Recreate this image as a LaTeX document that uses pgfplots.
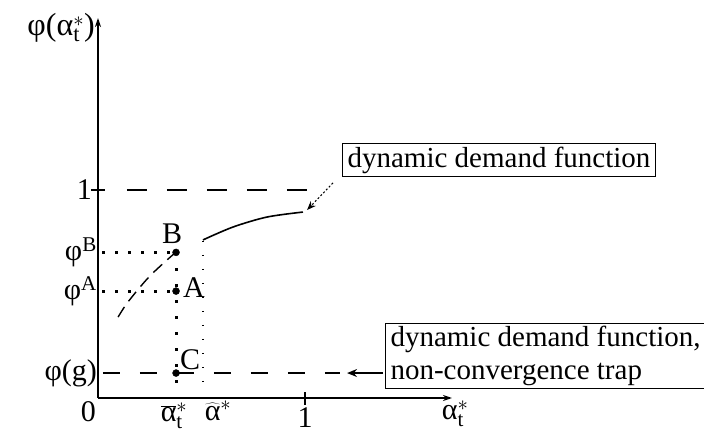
\documentclass[border=0pt]{standalone}
\usepackage{fontspec}
\setmainfont{Liberation Serif}
\usepackage{pgfplots}
\pgfplotsset{compat=1.18}
\usetikzlibrary{arrows.meta}
\newcommand{\fs}{\fontsize{29}{33}\selectfont}
\newcommand{\fl}{\fontsize{30}{34}\selectfont}
\newcommand{\fy}{\fontsize{32}{36}\selectfont}
\begin{document}
\begin{tikzpicture}
\useasboundingbox (0,0) rectangle (704pt,442pt);
\begin{axis}[
  at={(98pt,44pt)}, anchor=south west,
  scale only axis, width=354pt, height=380pt,
  xmin=0, xmax=1.71, ymin=0, ymax=1.827,
  axis lines=left,
  axis line style={line width=1.6pt, -{Stealth[length=9pt,width=6pt]}},
  xtick={1}, ytick={1}, xticklabels={}, yticklabels={},
  major tick length=13pt, tick align=center,
  tick style={line width=1.3pt, black},
  clip=false,
]
% dynamic demand function (solid part)
\addplot[line width=1.6pt, smooth] coordinates {(0.507,0.760)(0.652,0.822)(0.816,0.870)(0.990,0.894)};
% dashed part
\addplot[line width=1.4pt, dash pattern=on 12pt off 7pt, smooth] coordinates {(0.097,0.389)(0.145,0.462)(0.251,0.587)(0.377,0.702)};
% reference lines
\addplot[line width=1.6pt, dash pattern=on 20pt off 20pt] coordinates {(0.14,1)(1.01,1)};
\addplot[line width=1.6pt, dash pattern=on 17pt off 20pt] coordinates {(0.024,0.12)(1.17,0.12)};
% dotted guides
\addplot[line width=3pt, dash pattern=on 3pt off 10pt] coordinates {(0.02,0.70)(0.377,0.70)};
\addplot[line width=3pt, dash pattern=on 3pt off 10pt] coordinates {(0.02,0.514)(0.377,0.514)};
\addplot[line width=3pt, dash pattern=on 3pt off 13pt] coordinates {(0.377,0.70)(0.377,0.01)};
\addplot[line width=1.5pt, dash pattern=on 1.5pt off 12.5pt] coordinates {(0.507,0.755)(0.507,0.02)};
% points
\addplot[only marks, mark=*, mark size=3.5pt] coordinates {(0.377,0.70)(0.377,0.514)(0.377,0.12)};
% annotations
\draw[line width=1pt, dash pattern=on 2pt off 2pt, -{Stealth[length=9pt,width=7pt]}] (axis cs:1.135,1.034) -- (axis cs:1.01,0.904);
\draw[line width=1.2pt, -{Stealth[length=10pt,width=8pt]}] (axis cs:1.377,0.12) -- (axis cs:1.203,0.12);
\node[draw, line width=1.2pt, inner xsep=5pt, inner ysep=3pt, font=\fs] at (axis cs:1.937,1.144) {dynamic demand function};
\node[draw, line width=1.2pt, anchor=west, align=left, inner xsep=5pt, inner ysep=3pt, font=\fs] at (axis cs:1.386,0.202) {dynamic demand function,\\non-convergence trap};
% labels
\node[anchor=east, inner sep=0pt, font=\fy, xshift=-3pt] at (axis cs:0,1.78) {φ($\mbox{α}^{*}_{\mathrm{t}}$)};
\node[anchor=east, inner sep=0pt, font=\fl, xshift=-6pt] at (axis cs:0,1) {1};
\node[anchor=east, inner sep=0pt, font=\fl, xshift=-1pt] at (axis cs:0,0.70) {$\mbox{φ}^{\mathrm{B}}$};
\node[anchor=east, inner sep=0pt, font=\fl, xshift=-1pt] at (axis cs:0,0.514) {$\mbox{φ}^{\mathrm{A}}$};
\node[anchor=east, inner sep=0pt, font=\fl, xshift=-1pt] at (axis cs:0,0.12) {φ(g)};
\node[anchor=north east, inner sep=0pt, font=\fl, xshift=-2pt, yshift=-3pt] at (axis cs:0,0) {0};
\node[anchor=north, inner sep=0pt, font=\fl, yshift=-5pt, xshift=-2pt] at (axis cs:0.377,0) {$\overline{\mbox{α}}^{*}_{\mathrm{t}}$};
\node[anchor=north, inner sep=0pt, font=\fl, yshift=-3pt] at (axis cs:0.58,0) {$\widehat{\mbox{α}}^{*}$};
\node[anchor=north, inner sep=0pt, font=\fl, yshift=-9pt] at (axis cs:1,0) {1};
\node[anchor=north, inner sep=0pt, font=\fl, yshift=-3pt] at (axis cs:1.725,0) {$\mbox{α}^{*}_{\mathrm{t}}$};
\node[anchor=south, inner sep=0pt, font=\fl, xshift=-4pt, yshift=9pt] at (axis cs:0.377,0.70) {B};
\node[anchor=west, inner sep=0pt, font=\fl, xshift=7pt, yshift=3pt] at (axis cs:0.377,0.514) {A};
\node[anchor=west, inner sep=0pt, font=\fl, xshift=4pt, yshift=13pt] at (axis cs:0.377,0.12) {C};
\end{axis}
\end{tikzpicture}
\end{document}
